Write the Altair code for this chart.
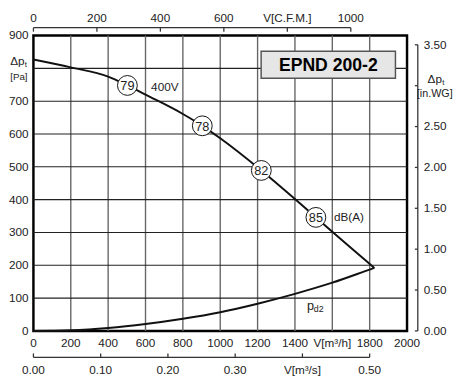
import altair as alt
import pandas as pd

# ---- data ----
flow_pt = [0, 200, 400, 503, 600, 800, 904, 1000, 1220, 1400, 1512, 1600, 1825]
pt_pa = [827, 803, 775, 748, 720, 661, 625, 587, 489, 402, 346, 302, 192]

flow_pd = [0, 200, 400, 600, 800, 1000, 1200, 1400, 1600, 1800, 1825]
pd_pa = [0, 2, 9, 21, 37, 57, 83, 113, 147, 187, 192]

db_flow = [503, 904, 1220, 1512]
db_pa = [748, 625, 489, 346]
db_labels = ["79", "78", "82", "85"]

x_ticks = [0, 200, 400, 600, 800, 1000, 1200, 1400, 1600, 1800, 2000]
x_labels = ["0", "200", "400", "600", "800", "1000", "1200", "1400", "V[m³/h]", "1800", "2000"]
y_ticks = [0, 100, 200, 300, 400, 500, 600, 700, 800, 900]
y_labels = ["0", "100", "200", "300", "400", "500", "600", "700", "", "900"]
cfm_ticks = [0, 200, 400, 600, 800, 1000]
cfm_labels = ["0", "200", "400", "600", "V[C.F.M.]", "1000"]
ms_ticks = [0.0, 0.1, 0.2, 0.3, 0.4, 0.5]
ms_labels = ["0.00", "0.10", "0.20", "0.30", "V[m³/s]", "0.50"]
wg_ticks = [0.0, 0.5, 1.0, 1.5, 2.0, 2.5, 3.0, 3.5]
wg_labels = ["0.00", "0.50", "1.00", "1.50", "2.00", "2.50", "", "3.50"]

title = "EPND 200-2"
title_box = {"x": 1219, "x2": 1938, "y": 770, "y2": 852}
ann_text = ["400V", "dB(A)"]
ann_flow = [630, 1609]
ann_pa = [743, 346]
pd2_flow = 1464
pd2_pa = 77

M3H_PER_CFM = 1.699
M3H_PER_M3S = 3600.0
PA_PER_INWG = 249.09

W, H = 382, 302
FONT = "Liberation Sans"
TXT = "#222222"

xs = alt.Scale(domain=[0, 2000], nice=False, zero=False)
ys = alt.Scale(domain=[0, 900], nice=False, zero=False)


def X(f="v"):
    return alt.X(f"{f}:Q", scale=xs, axis=None)


def Y(f="p"):
    return alt.Y(f"{f}:Q", scale=ys, axis=None)


# grid
vgrid = alt.Chart(pd.DataFrame({"v": x_ticks[1:-1]})).mark_rule(
    color="#666666", strokeWidth=1.4).encode(x=X())
hgrid = alt.Chart(pd.DataFrame({"p": y_ticks[1:-1]})).mark_rule(
    color="#222222", strokeWidth=1.1).encode(y=Y())

# title box
box = alt.Chart(pd.DataFrame([title_box])).mark_rect(
    fill="#e6e6e6", stroke="#555555", strokeWidth=1.5).encode(
    x=X("x"), x2="x2:Q", y=Y("y"), y2="y2:Q")
box_txt = alt.Chart(pd.DataFrame({
    "v": [(title_box["x"] + title_box["x2"]) / 2],
    "p": [(title_box["y"] + title_box["y2"]) / 2],
    "t": [title]})).mark_text(
    font=FONT, fontSize=18, fontWeight="bold", color="#000000",
    baseline="middle", align="center", dy=1).encode(x=X(), y=Y(), text="t:N")

# curves
pt_line = alt.Chart(pd.DataFrame({"v": flow_pt, "p": pt_pa})).mark_line(
    color="#111111", strokeWidth=2, interpolate="monotone").encode(x=X(), y=Y())
pd_line = alt.Chart(pd.DataFrame({"v": flow_pd, "p": pd_pa})).mark_line(
    color="#111111", strokeWidth=2, interpolate="monotone").encode(x=X(), y=Y())

db_df = pd.DataFrame({"v": db_flow, "p": db_pa, "t": db_labels})
circles = alt.Chart(db_df).mark_point(
    shape="circle", size=410, filled=True, fill="#ffffff", stroke="#111111",
    strokeWidth=1, opacity=1).encode(x=X(), y=Y())
circ_txt = alt.Chart(db_df).mark_text(
    font=FONT, fontSize=13, color=TXT, baseline="middle", align="center", dy=1).encode(
    x=X(), y=Y(), text="t:N")

ann = alt.Chart(pd.DataFrame({"v": ann_flow, "p": ann_pa, "t": ann_text})).mark_text(
    font=FONT, fontSize=12, color=TXT, align="left", baseline="middle").encode(
    x=X(), y=Y(), text="t:N")
pd2_p = alt.Chart(pd.DataFrame({"v": [pd2_flow], "p": [pd2_pa], "t": ["p"]})).mark_text(
    font=FONT, fontSize=13, color=TXT, align="left", baseline="middle").encode(
    x=X(), y=Y(), text="t:N")
pd2_sub = alt.Chart(pd.DataFrame({"v": [pd2_flow], "p": [pd2_pa], "t": ["d2"]})).mark_text(
    font=FONT, fontSize=9, color=TXT, align="left", baseline="middle", dx=7, dy=4).encode(
    x=X(), y=Y(), text="t:N")

# left axis labels
left_lab = alt.Chart(pd.DataFrame({"p": y_ticks, "t": y_labels})).mark_text(
    font=FONT, fontSize=12, color=TXT, align="right", baseline="middle").encode(
    x=alt.value(-5), y=Y(), text="t:N")
left_dp = alt.Chart(pd.DataFrame({"p": [800], "t": ["Δp"]})).mark_text(
    font=FONT, fontSize=12, color=TXT, align="right", baseline="middle", dy=-7).encode(
    x=alt.value(-9), y=Y(), text="t:N")
left_dp_sub = alt.Chart(pd.DataFrame({"p": [800], "t": ["t"]})).mark_text(
    font=FONT, fontSize=8, color=TXT, align="left", baseline="middle", dy=-3).encode(
    x=alt.value(-9), y=Y(), text="t:N")
left_unit = alt.Chart(pd.DataFrame({"p": [800], "t": ["[Pa]"]})).mark_text(
    font=FONT, fontSize=10, color=TXT, align="right", baseline="middle", dy=9).encode(
    x=alt.value(-6), y=Y(), text="t:N")

# bottom axis labels (m3/h)
bot_lab = alt.Chart(pd.DataFrame({"v": x_ticks, "t": x_labels})).mark_text(
    font=FONT, fontSize=12, color=TXT, align="center", baseline="middle").encode(
    x=X(), y=alt.value(H + 12), text="t:N")

# top axis (CFM)
top_df = pd.DataFrame({"v": [c * M3H_PER_CFM for c in cfm_ticks], "t": cfm_labels})
top_line = alt.Chart(pd.DataFrame({"v": [0.0], "v2": [cfm_ticks[-1] * M3H_PER_CFM]})).mark_rule(
    color="#333333", strokeWidth=1.3).encode(x=X(), x2="v2:Q", y=alt.value(-8))
top_ticks = alt.Chart(top_df).mark_rule(color="#333333", strokeWidth=1.3).encode(
    x=X(), y=alt.value(-8), y2=alt.value(-4))
top_lab = alt.Chart(top_df).mark_text(
    font=FONT, fontSize=12, color=TXT, align="center", baseline="middle").encode(
    x=X(), y=alt.value(-18), text="t:N")

# lower axis (m3/s)
ms_df = pd.DataFrame({"v": [m * M3H_PER_M3S for m in ms_ticks], "t": ms_labels})
ms_line = alt.Chart(pd.DataFrame({"v": [0.0], "v2": [ms_ticks[-1] * M3H_PER_M3S]})).mark_rule(
    color="#333333", strokeWidth=1.3).encode(x=X(), x2="v2:Q", y=alt.value(H + 27))
ms_tk = alt.Chart(ms_df).mark_rule(color="#333333", strokeWidth=1.3).encode(
    x=X(), y=alt.value(H + 23), y2=alt.value(H + 27))
ms_lab = alt.Chart(ms_df).mark_text(
    font=FONT, fontSize=12, color=TXT, align="center", baseline="middle").encode(
    x=X(), y=alt.value(H + 40), text="t:N")

# right axis (in.WG)
wg_df = pd.DataFrame({"p": [w * PA_PER_INWG for w in wg_ticks], "t": wg_labels})
wg_line = alt.Chart(pd.DataFrame({"p": [0.0], "p2": [wg_ticks[-1] * PA_PER_INWG]})).mark_rule(
    color="#333333", strokeWidth=1.3).encode(x=alt.value(W + 11), y=Y(), y2="p2:Q")
wg_tk = alt.Chart(wg_df).mark_rule(color="#333333", strokeWidth=1.3).encode(
    x=alt.value(W + 8), x2=alt.value(W + 11), y=Y())
wg_lab = alt.Chart(wg_df).mark_text(
    font=FONT, fontSize=12, color=TXT, align="left", baseline="middle").encode(
    x=alt.value(W + 17), y=Y(), text="t:N")
wg_pos = 3.0 * PA_PER_INWG
right_dp = alt.Chart(pd.DataFrame({"p": [wg_pos], "t": ["Δp"]})).mark_text(
    font=FONT, fontSize=12, color=TXT, align="left", baseline="middle", dy=-7).encode(
    x=alt.value(W + 21), y=Y(), text="t:N")
right_dp_sub = alt.Chart(pd.DataFrame({"p": [wg_pos], "t": ["t"]})).mark_text(
    font=FONT, fontSize=8, color=TXT, align="left", baseline="middle", dy=-3, dx=15).encode(
    x=alt.value(W + 21), y=Y(), text="t:N")
right_unit = alt.Chart(pd.DataFrame({"p": [wg_pos], "t": ["[in.WG]"]})).mark_text(
    font=FONT, fontSize=11, color=TXT, align="left", baseline="middle", dy=9).encode(
    x=alt.value(W + 10), y=Y(), text="t:N")

chart = alt.layer(
    vgrid, hgrid, box, box_txt, pt_line, pd_line, circles, circ_txt, ann, pd2_p, pd2_sub,
    left_lab, left_dp, left_dp_sub, left_unit, bot_lab,
    top_line, top_ticks, top_lab, ms_line, ms_tk, ms_lab,
    wg_line, wg_tk, wg_lab, right_dp, right_dp_sub, right_unit,
).properties(width=W, height=H, padding=0, background="#ffffff").configure_view(
    stroke="#000000", strokeWidth=2.5)

chart.save("out.html", embed_options={"renderer": "svg", "actions": False})
